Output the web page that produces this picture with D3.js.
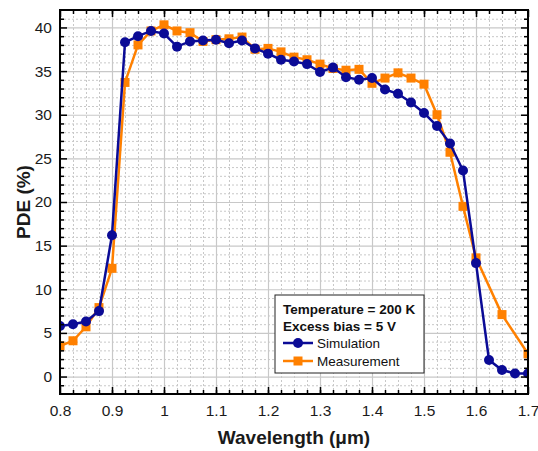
<!DOCTYPE html>
<html>
<head>
<meta charset="utf-8">
<script src="https://cdn.jsdelivr.net/npm/d3@7"></script>
<style>
  body { margin: 0; background: #fff; }
  svg { font-family: "Liberation Sans", Arial, sans-serif; }
</style>
</head>
<body>
<div id="chart"></div>
<script>
// Declare constants
const SIM_COLOR = "#0b0b96";
const MEAS_COLOR = "#ff8000";
const GRID_COLOR = "#c8c8c8";
const WIDTH = 538;
const HEIGHT = 451;
const MARGIN = { top: 10, right: 10, bottom: 57, left: 60 };

// Simulation data
const simWavelength = [0.8, 0.825, 0.85, 0.875, 0.9, 0.925, 0.95, 0.975, 1.0, 1.025,
  1.05, 1.075, 1.1, 1.125, 1.15, 1.175, 1.2, 1.225, 1.25, 1.275, 1.3, 1.325, 1.35,
  1.375, 1.4, 1.425, 1.45, 1.475, 1.5, 1.525, 1.55, 1.575, 1.6, 1.625, 1.65, 1.675, 1.7];
const simPDE = [5.8, 6.0, 6.3, 7.5, 16.2, 38.3, 39.0, 39.6, 39.3, 37.8, 38.4, 38.5,
  38.6, 38.2, 38.5, 37.6, 37.0, 36.3, 36.1, 35.8, 34.9, 35.4, 34.3, 34.0, 34.2, 32.9,
  32.4, 31.4, 30.2, 28.7, 26.7, 23.6, 13.0, 1.9, 0.75, 0.35, 0.35];

// Measurement data
const measWavelength = [0.8, 0.825, 0.85, 0.875, 0.9, 0.925, 0.95, 0.975, 1.0, 1.025,
  1.05, 1.075, 1.1, 1.125, 1.15, 1.175, 1.2, 1.225, 1.25, 1.275, 1.3, 1.325, 1.35,
  1.375, 1.4, 1.425, 1.45, 1.475, 1.5, 1.525, 1.55, 1.575, 1.6, 1.65, 1.7];
const measPDE = [3.5, 4.1, 5.7, 7.9, 12.4, 33.7, 38.0, 39.6, 40.3, 39.6, 39.4, 38.4,
  38.6, 38.7, 38.9, 37.5, 37.6, 37.2, 36.6, 36.3, 35.8, 35.3, 35.1, 35.2, 33.6, 34.2,
  34.8, 34.2, 33.5, 30.0, 25.7, 19.5, 13.6, 7.1, 2.6];

// Ticks
const xTicks = [0.8, 0.9, 1.0, 1.1, 1.2, 1.3, 1.4, 1.5, 1.6, 1.7];
const yTicks = [0, 5, 10, 15, 20, 25, 30, 35, 40];
const xDomain = [0.8, 1.7];
const yDomain = [-2, 42];

const legendNotes = ["Temperature = 200 K", "Excess bias = 5 V"];
const seriesNames = ["Simulation", "Measurement"];

var plotW = WIDTH - MARGIN.left - MARGIN.right;
var plotH = HEIGHT - MARGIN.top - MARGIN.bottom;

var svg = d3.select("#chart").append("svg")
  .attr("width", WIDTH)
  .attr("height", HEIGHT);

var g = svg.append("g")
  .attr("transform", `translate(${MARGIN.left},${MARGIN.top})`);

var x = d3.scaleLinear().domain(xDomain).range([0, plotW]);
var y = d3.scaleLinear().domain(yDomain).range([plotH, 0]);

// minor tick values
var xMinor = d3.range(0, 37).map(i => 0.8 + i * 0.025).filter(v => v > 0.8 && v < 1.7);
var yMinor = d3.range(-1, 42).filter(v => v % 5 !== 0);

// Minor gridlines (dotted)
g.append("g")
  .attr("transform", `translate(0,${plotH})`)
  .call(d3.axisBottom(x).tickValues(xMinor).tickSize(-plotH).tickFormat(""))
  .call(a => a.select(".domain").remove())
  .selectAll("line").attr("stroke", GRID_COLOR).attr("stroke-dasharray", "2,2");
g.append("g")
  .call(d3.axisLeft(y).tickValues(yMinor).tickSize(-plotW).tickFormat(""))
  .call(a => a.select(".domain").remove())
  .selectAll("line").attr("stroke", GRID_COLOR).attr("stroke-dasharray", "2,2");

// Major gridlines (solid)
g.append("g")
  .attr("transform", `translate(0,${plotH})`)
  .call(d3.axisBottom(x).tickValues(xTicks).tickSize(-plotH).tickFormat(""))
  .call(a => a.select(".domain").remove())
  .selectAll("line").attr("stroke", GRID_COLOR).attr("stroke-width", 1.2);
g.append("g")
  .call(d3.axisLeft(y).tickValues(yTicks).tickSize(-plotW).tickFormat(""))
  .call(a => a.select(".domain").remove())
  .selectAll("line").attr("stroke", GRID_COLOR).attr("stroke-width", 1.2);

// Clip for the data
svg.append("defs").append("clipPath").attr("id", "clip")
  .append("rect").attr("width", plotW).attr("height", plotH);

var plot = g.append("g").attr("clip-path", "url(#clip)");

var line = d3.line().x(d => x(d[0])).y(d => y(d[1]));

var measData = measWavelength.map((w, i) => [w, measPDE[i]]);
var simData = simWavelength.map((w, i) => [w, simPDE[i]]);

// Measurement series
plot.append("path")
  .datum(measData)
  .attr("d", line)
  .attr("fill", "none")
  .attr("stroke", MEAS_COLOR)
  .attr("stroke-width", 2.5);
plot.selectAll("rect.meas")
  .data(measData)
  .enter().append("rect")
  .attr("class", "meas")
  .attr("x", d => x(d[0]) - 4.5)
  .attr("y", d => y(d[1]) - 4.5)
  .attr("width", 9)
  .attr("height", 9)
  .attr("fill", MEAS_COLOR);

// Simulation series
plot.append("path")
  .datum(simData)
  .attr("d", line)
  .attr("fill", "none")
  .attr("stroke", SIM_COLOR)
  .attr("stroke-width", 2.5);
plot.selectAll("circle.sim")
  .data(simData)
  .enter().append("circle")
  .attr("class", "sim")
  .attr("cx", d => x(d[0]))
  .attr("cy", d => y(d[1]))
  .attr("r", 5)
  .attr("fill", SIM_COLOR);

// Axes with inward ticks
function styleAxis(a) {
  a.select(".domain").remove();
  a.selectAll("line").attr("stroke", "#000").attr("stroke-width", 1.5);
}
var fmtX = d => (d === 1 ? "1" : d3.format(".1f")(d));

var bottomAxis = g.append("g").attr("transform", `translate(0,${plotH})`);
bottomAxis.call(d3.axisBottom(x).tickValues(xMinor).tickSize(-4).tickFormat("")).call(styleAxis);
var bottomMajor = g.append("g").attr("transform", `translate(0,${plotH})`)
  .call(d3.axisBottom(x).tickValues(xTicks).tickSize(-7).tickPadding(11).tickFormat(fmtX))
  .call(styleAxis);
bottomMajor.selectAll("text").attr("font-size", 15.5).attr("fill", "#1a1a1a");

var leftAxis = g.append("g");
leftAxis.call(d3.axisLeft(y).tickValues(yMinor).tickSize(-4).tickFormat("")).call(styleAxis);
var leftMajor = g.append("g")
  .call(d3.axisLeft(y).tickValues(yTicks).tickSize(-7).tickPadding(8))
  .call(styleAxis);
leftMajor.selectAll("text").attr("font-size", 15.5).attr("fill", "#1a1a1a");

g.append("g")
  .call(d3.axisTop(x).tickValues(xMinor).tickSize(-4).tickFormat("")).call(styleAxis);
g.append("g")
  .call(d3.axisTop(x).tickValues(xTicks).tickSize(-7).tickFormat("")).call(styleAxis);
g.append("g").attr("transform", `translate(${plotW},0)`)
  .call(d3.axisRight(y).tickValues(yMinor).tickSize(-4).tickFormat("")).call(styleAxis);
g.append("g").attr("transform", `translate(${plotW},0)`)
  .call(d3.axisRight(y).tickValues(yTicks).tickSize(-7).tickFormat("")).call(styleAxis);

// Frame
g.append("rect")
  .attr("width", plotW)
  .attr("height", plotH)
  .attr("fill", "none")
  .attr("stroke", "#000")
  .attr("stroke-width", 2);

// Axis titles
svg.append("text")
  .attr("x", MARGIN.left + plotW / 2)
  .attr("y", 444)
  .attr("text-anchor", "middle")
  .attr("font-size", 19)
  .attr("font-weight", "bold")
  .attr("fill", "#1a1a1a")
  .text("Wavelength (\u03bcm)");

svg.append("text")
  .attr("transform", `translate(30,${MARGIN.top + plotH / 2}) rotate(-90)`)
  .attr("text-anchor", "middle")
  .attr("font-size", 19)
  .attr("font-weight", "bold")
  .attr("fill", "#1a1a1a")
  .text("PDE (%)");

// Legend
var legend = svg.append("g").attr("transform", "translate(275,295)");
legend.append("rect")
  .attr("width", 149)
  .attr("height", 78)
  .attr("fill", "#fff")
  .attr("stroke", "#222")
  .attr("stroke-width", 1);

legendNotes.forEach(function (t, i) {
  legend.append("text")
    .attr("x", 8)
    .attr("y", 19 + i * 17)
    .attr("font-size", 13.5)
    .attr("font-weight", "bold")
    .attr("fill", "#111")
    .text(t);
});

seriesNames.forEach(function (t, i) {
  var cy = 48 + i * 18;
  var color = i === 0 ? SIM_COLOR : MEAS_COLOR;
  legend.append("line")
    .attr("x1", 8).attr("x2", 38)
    .attr("y1", cy).attr("y2", cy)
    .attr("stroke", color).attr("stroke-width", 2.5);
  if (i === 0) {
    legend.append("circle").attr("cx", 23).attr("cy", cy).attr("r", 5).attr("fill", color);
  } else {
    legend.append("rect").attr("x", 18.5).attr("y", cy - 4.5)
      .attr("width", 9).attr("height", 9).attr("fill", color);
  }
  legend.append("text")
    .attr("x", 42)
    .attr("y", cy + 5)
    .attr("font-size", 13.5)
    .attr("fill", "#111")
    .text(t);
});
</script>
</body>
</html>
